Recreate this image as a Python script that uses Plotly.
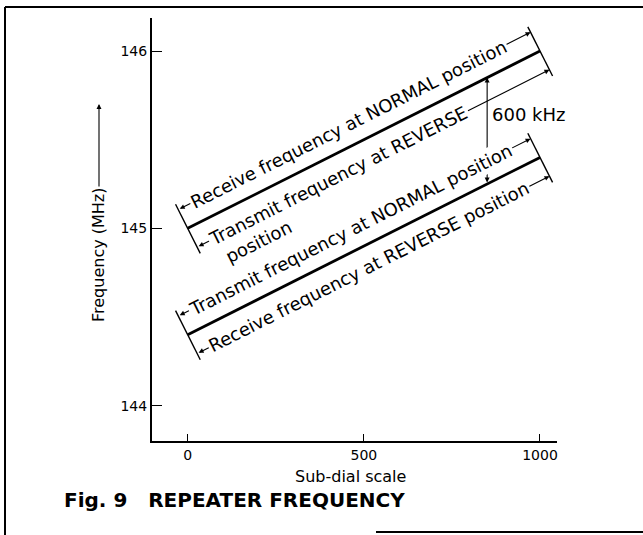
import math
import plotly.graph_objects as go

# ---- data ----
sub_dial = [0, 1000]
rx_normal_mhz = [145.0, 146.0]   # Receive at NORMAL / Transmit at REVERSE
tx_normal_mhz = [144.4, 145.4]   # Transmit at NORMAL / Receive at REVERSE
shift_at_dial = 850
x_ticks = [0, 500, 1000]
y_ticks = [144, 145, 146]
upper_labels = ["Receive frequency at NORMAL position", "Transmit frequency at REVERSE"]
lower_labels = ["Transmit frequency at NORMAL position", "Receive frequency at REVERSE position"]
wrap_label = "position"
shift_label = "600 kHz"

# ---- layout geometry ----
W, H = 643, 535
ML, MR, MT, MB = 152, 86, 18, 94
PW, PH = W - ML - MR, H - MT - MB
xmin, xmax = -101.3, 1048.3
ymax = 146.0 + (51 - MT) / 177.35
ymin = ymax - PH / 177.35
kx = PW / (xmax - xmin)
ky = PH / (ymax - ymin)

def to_px(x, y):
    return ML + (x - xmin) * kx, MT + (ymax - y) * ky

def to_data(px, py):
    return xmin + (px - ML) / kx, ymax - (py - MT) / ky

def to_paper(px, py):
    return (px - ML) / PW, (MT + PH - py) / PH

FONT = "DejaVu Sans"
fig = go.Figure()
for ys in (rx_normal_mhz, tx_normal_mhz):
    fig.add_trace(go.Scatter(x=sub_dial, y=ys, mode="lines",
                             line=dict(color="black", width=2.8),
                             showlegend=False, hoverinfo="skip"))

shapes = []
annotations = []

def line_geom(ys):
    p0 = to_px(sub_dial[0], ys[0])
    p1 = to_px(sub_dial[1], ys[1])
    L = math.hypot(p1[0] - p0[0], p1[1] - p0[1])
    d = ((p1[0] - p0[0]) / L, (p1[1] - p0[1]) / L)
    n = (d[1], -d[0])  # points up-left
    return p0, p1, L, d, n

def pt(p0, d, n, s, o):
    return p0[0] + s * d[0] + o * n[0], p0[1] + s * d[1] + o * n[1]

ARROW = dict(showarrow=True, arrowhead=2, arrowsize=0.9, arrowwidth=1.1,
             arrowcolor="black", standoff=0, startstandoff=0)

# 600 kHz arrow (drawn first so text backgrounds mask it)
yu = rx_normal_mhz[0] + (rx_normal_mhz[1] - rx_normal_mhz[0]) * shift_at_dial / 1000
yl = tx_normal_mhz[0] + (tx_normal_mhz[1] - tx_normal_mhz[0]) * shift_at_dial / 1000
annotations.append(dict(x=shift_at_dial, y=yu, ax=shift_at_dial, ay=yl,
                        xref="x", yref="y", axref="x", ayref="y", text="",
                        arrowside="end+start", **ARROW))
px_s, py_s = to_px(shift_at_dial, (yu + yl) / 2)
sx, sy = to_paper(px_s + 3, py_s - 16)
annotations.append(dict(x=sx, y=sy, xref="paper", yref="paper", text=shift_label,
                        showarrow=False, xanchor="left", yanchor="middle",
                        font=dict(family=FONT, size=18, color="black")))

ang = None
text_specs = []
for ys, labels in ((rx_normal_mhz, upper_labels), (tx_normal_mhz, lower_labels)):
    p0, p1, L, d, n = line_geom(ys)
    ang = math.degrees(math.atan2(d[1], d[0]))
    # end bars
    for p in (p0, p1):
        a = to_data(p[0] + 27 * n[0], p[1] + 27 * n[1])
        b = to_data(p[0] - 28 * n[0], p[1] - 28 * n[1])
        shapes.append(dict(type="line", xref="x", yref="y", x0=a[0], y0=a[1], x1=b[0], y1=b[1],
                           line=dict(color="black", width=1.4)))
    # dimension lines
    for o in (21, -21):
        a = to_data(*pt(p0, d, n, 0, o))
        b = to_data(*pt(p0, d, n, L, o))
        annotations.append(dict(x=b[0], y=b[1], ax=a[0], ay=a[1], xref="x", yref="y",
                                axref="x", ayref="y", text="", arrowside="end+start", **ARROW))
    text_specs.append((p0, d, n, labels))

# approximate DejaVu Sans advance widths (em) for positioning along the line
adv = {' ': .318, 'R': .695, 'e': .615, 'c': .55, 'i': .278, 'v': .592, 'f': .352, 'r': .411,
       'q': .635, 'u': .634, 'n': .634, 'y': .592, 'a': .613, 't': .392, 'N': .748, 'O': .787,
       'M': .863, 'A': .684, 'L': .557, 'p': .635, 'o': .612, 's': .521, 'T': .611, 'm': .974,
       'E': .632, 'V': .684, 'S': .635}

def text_w(t, size):
    return sum(adv.get(ch, .6) for ch in t) * size

def place(p0, d, n, s_start, o, text, size=18):
    w = text_w(text, size)
    cx, cy = pt(p0, d, n, s_start + w / 2, o)
    px, py = to_paper(cx, cy)
    annotations.append(dict(x=px, y=py, xref="paper", yref="paper", text=text,
                            showarrow=False, textangle=ang, xanchor="center", yanchor="middle",
                            bgcolor="white", borderpad=1,
                            font=dict(family=FONT, size=size, color="black")))

(p0u, du, nu, lu), (p0l, dl, nl, ll) = text_specs
place(p0u, du, nu, 14, 21, lu[0])
place(p0u, du, nu, 14, -21, lu[1])
place(p0u, du, nu, 22, -44, wrap_label)
place(p0l, dl, nl, 13, 21, ll[0])
place(p0l, dl, nl, 14, -21, ll[1])

# y-axis title with arrow
tx, ty = to_paper(98, 255)
annotations.append(dict(x=tx, y=ty, xref="paper", yref="paper", text="Frequency (MHz)",
                        showarrow=False, textangle=-90, xanchor="center", yanchor="middle",
                        font=dict(family=FONT, size=16, color="black")))
hx, hy = to_paper(99, 104)
annotations.append(dict(x=hx, y=hy, xref="paper", yref="paper", text="",
                        ax=0, ay=84, **ARROW))

# x-axis title and caption
xt = to_paper(350, 476)
annotations.append(dict(x=xt[0], y=xt[1], xref="paper", yref="paper", text="Sub-dial scale",
                        showarrow=False, xanchor="center", yanchor="middle",
                        font=dict(family=FONT, size=16, color="black")))
ct = to_paper(62, 500)
annotations.append(dict(x=ct[0], y=ct[1], xref="paper", yref="paper",
                        text="<b>Fig. 9   REPEATER FREQUENCY</b>",
                        showarrow=False, xanchor="left", yanchor="middle",
                        font=dict(family=FONT, size=20, color="black")))

# outer frame (left, top, and the visible part of the bottom edge)
for (ax0, ay0, ax1, ay1) in ((5, 7, 5, 535), (5, 7, 643, 7), (376, 532, 643, 532)):
    q0 = to_paper(ax0, ay0)
    q1 = to_paper(ax1, ay1)
    shapes.append(dict(type="line", xref="paper", yref="paper", x0=q0[0], y0=q0[1],
                       x1=q1[0], y1=q1[1], line=dict(color="black", width=2)))

fig.update_layout(
    width=W, height=H, margin=dict(l=ML, r=MR, t=MT, b=MB),
    paper_bgcolor="white", plot_bgcolor="white", showlegend=False,
    shapes=shapes, annotations=annotations,
    xaxis=dict(range=[xmin, xmax], tickvals=x_ticks, ticktext=[str(v) for v in x_ticks],
               ticks="inside", ticklen=7, tickwidth=1.3, tickcolor="black",
               showline=True, linecolor="black", linewidth=2, showgrid=False, zeroline=False,
               tickfont=dict(family=FONT, size=14, color="black")),
    yaxis=dict(range=[ymin, ymax], tickvals=y_ticks, ticktext=[str(v) for v in y_ticks],
               ticks="inside", ticklen=10, tickwidth=1.3, tickcolor="black",
               showline=True, linecolor="black", linewidth=2, showgrid=False, zeroline=False,
               tickfont=dict(family=FONT, size=14, color="black")),
)

fig.write_html("out.html", config={"displayModeBar": False},
               post_script="document.body.style.margin='0px';document.body.style.padding='0px';")
